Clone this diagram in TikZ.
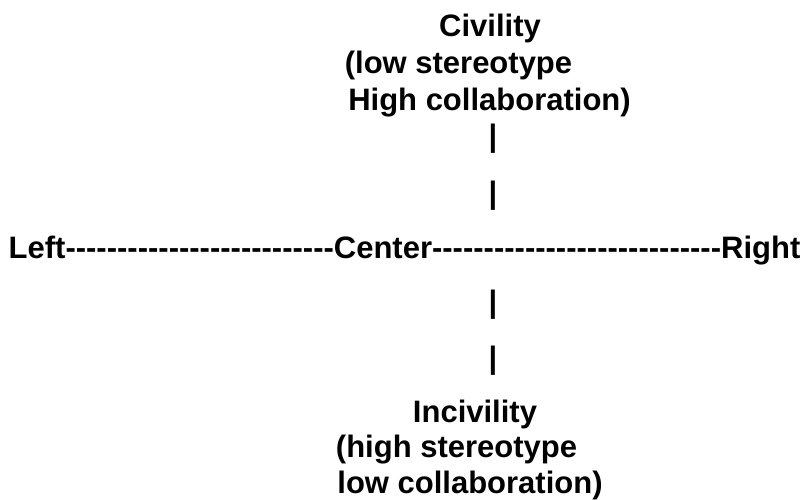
\documentclass[tikz,border=0pt]{standalone}
\usepackage{fontspec}
\setmainfont{Liberation Sans}[Ligatures=TeXOff]
\begin{document}
\begin{tikzpicture}[x=1pt,y=-1pt,
  lbl/.style={inner sep=0pt,outer sep=0pt,anchor=base,font=\fontsize{31}{37}\selectfont\bfseries},
  lblw/.style={lbl,anchor=base west}]
\useasboundingbox (0,0) rectangle (809,499);
\node[lbl] (civ) at (490,36) {Civility};
\node[lbl] (civ2) at (458.5,73) {(low stereotype};
\node[lbl] (civ3) at (489.5,110) {High collaboration)};
\node[lbl] (b1) at (493,146.5) {|};
\node[lbl] (b2) at (493,203.5) {|};
\node[lblw] (axis) at (8.7,258) {Left--------------------------Center----------------------------Right};
\node[lbl] (b3) at (493,312.5) {|};
\node[lbl] (b4) at (493,368.5) {|};
\node[lbl] (inc) at (475,422) {Incivility};
\node[lbl] (inc2) at (456.5,457) {(high stereotype};
\node[lbl] (inc3) at (470,493) {low collaboration)};
\end{tikzpicture}
\end{document}
